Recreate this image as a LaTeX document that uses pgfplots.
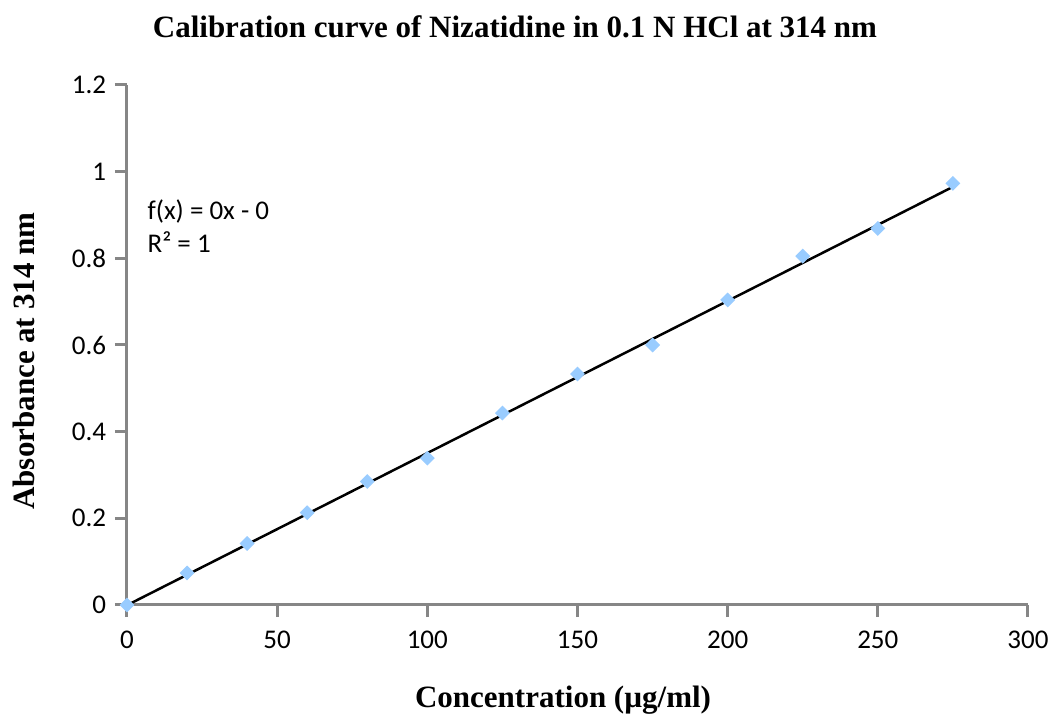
\documentclass[border=0pt]{standalone}
\usepackage{fontspec}
\setmainfont{Liberation Serif}
\newfontfamily\carlito{Carlito}
\usepackage{pgfplots}
\pgfplotsset{compat=1.18}

\definecolor{axisgray}{RGB}{134,134,134}
\definecolor{ptblue}{RGB}{153,204,255}

\begin{document}
\begin{tikzpicture}
  % keep the page the same proportions as the reference (1 px = 0.4 pt)
  \path[use as bounding box] (-50.8pt,-44.4pt) rectangle (370pt,242pt);
  \begin{axis}[
      scale only axis,
      width=360.4pt,
      height=208pt,
      xmin=0, xmax=300,
      ymin=0, ymax=1.2,
      xtick={0,50,...,300},
      ytick={0,0.2,0.4,0.6,0.8,1,1.2},
      axis x line=bottom,
      axis y line=left,
      axis line style={-, axisgray, line width=1.2pt},
      tick align=outside,
      major tick length=4.8pt,
      tick style={axisgray, line width=1.2pt},
      ticklabel style={font=\carlito\fontsize{10.8}{13}\selectfont},
      /pgf/number format/assume math mode=true,
      xticklabel style={yshift=-2pt},
      title={Calibration curve of Nizatidine in 0.1 N HCl at 314 nm},
      every axis title shift=0pt,
      title style={font=\bfseries\fontsize{12.4}{15}\selectfont,
        at={(axis description cs:0.4306,1.1115)}, anchor=center, yshift=0pt},
      xlabel={Concentration (µg/ml)},
      ylabel={Absorbance at 314 nm},
      label style={font=\bfseries\fontsize{12.4}{15}\selectfont},
      xlabel style={at={(axis description cs:0.484,-0.1827)}, anchor=center, yshift=0pt},
      ylabel style={at={(axis description cs:-0.1143,0.469)}, anchor=center},
      clip=false,
    ]
    % fitted trend line
    \addplot[black, line width=1pt] coordinates {
      (0,-0.0005) (275,0.965)
    };
    % measured absorbance
    \addplot[only marks, color=ptblue, mark=square*, mark size=1.9pt,
             mark options={fill=ptblue, draw=ptblue, rotate=45}] coordinates {
      (0,0)
      (20,0.074)
      (40,0.142)
      (60,0.213)
      (80,0.285)
      (100,0.339)
      (125,0.443)
      (150,0.533)
      (175,0.600)
      (200,0.704)
      (225,0.805)
      (250,0.869)
      (275,0.973)
    };
    \node[anchor=west, inner sep=0pt, font=\carlito\fontsize{10.8}{13}\selectfont]
      at (axis cs:6.7,0.907) {f(x) = 0x - 0};
    \node[anchor=west, inner sep=0pt, font=\carlito\fontsize{10.8}{13}\selectfont]
      at (axis cs:6.7,0.838) {R² = 1};
  \end{axis}
\end{tikzpicture}
\end{document}
